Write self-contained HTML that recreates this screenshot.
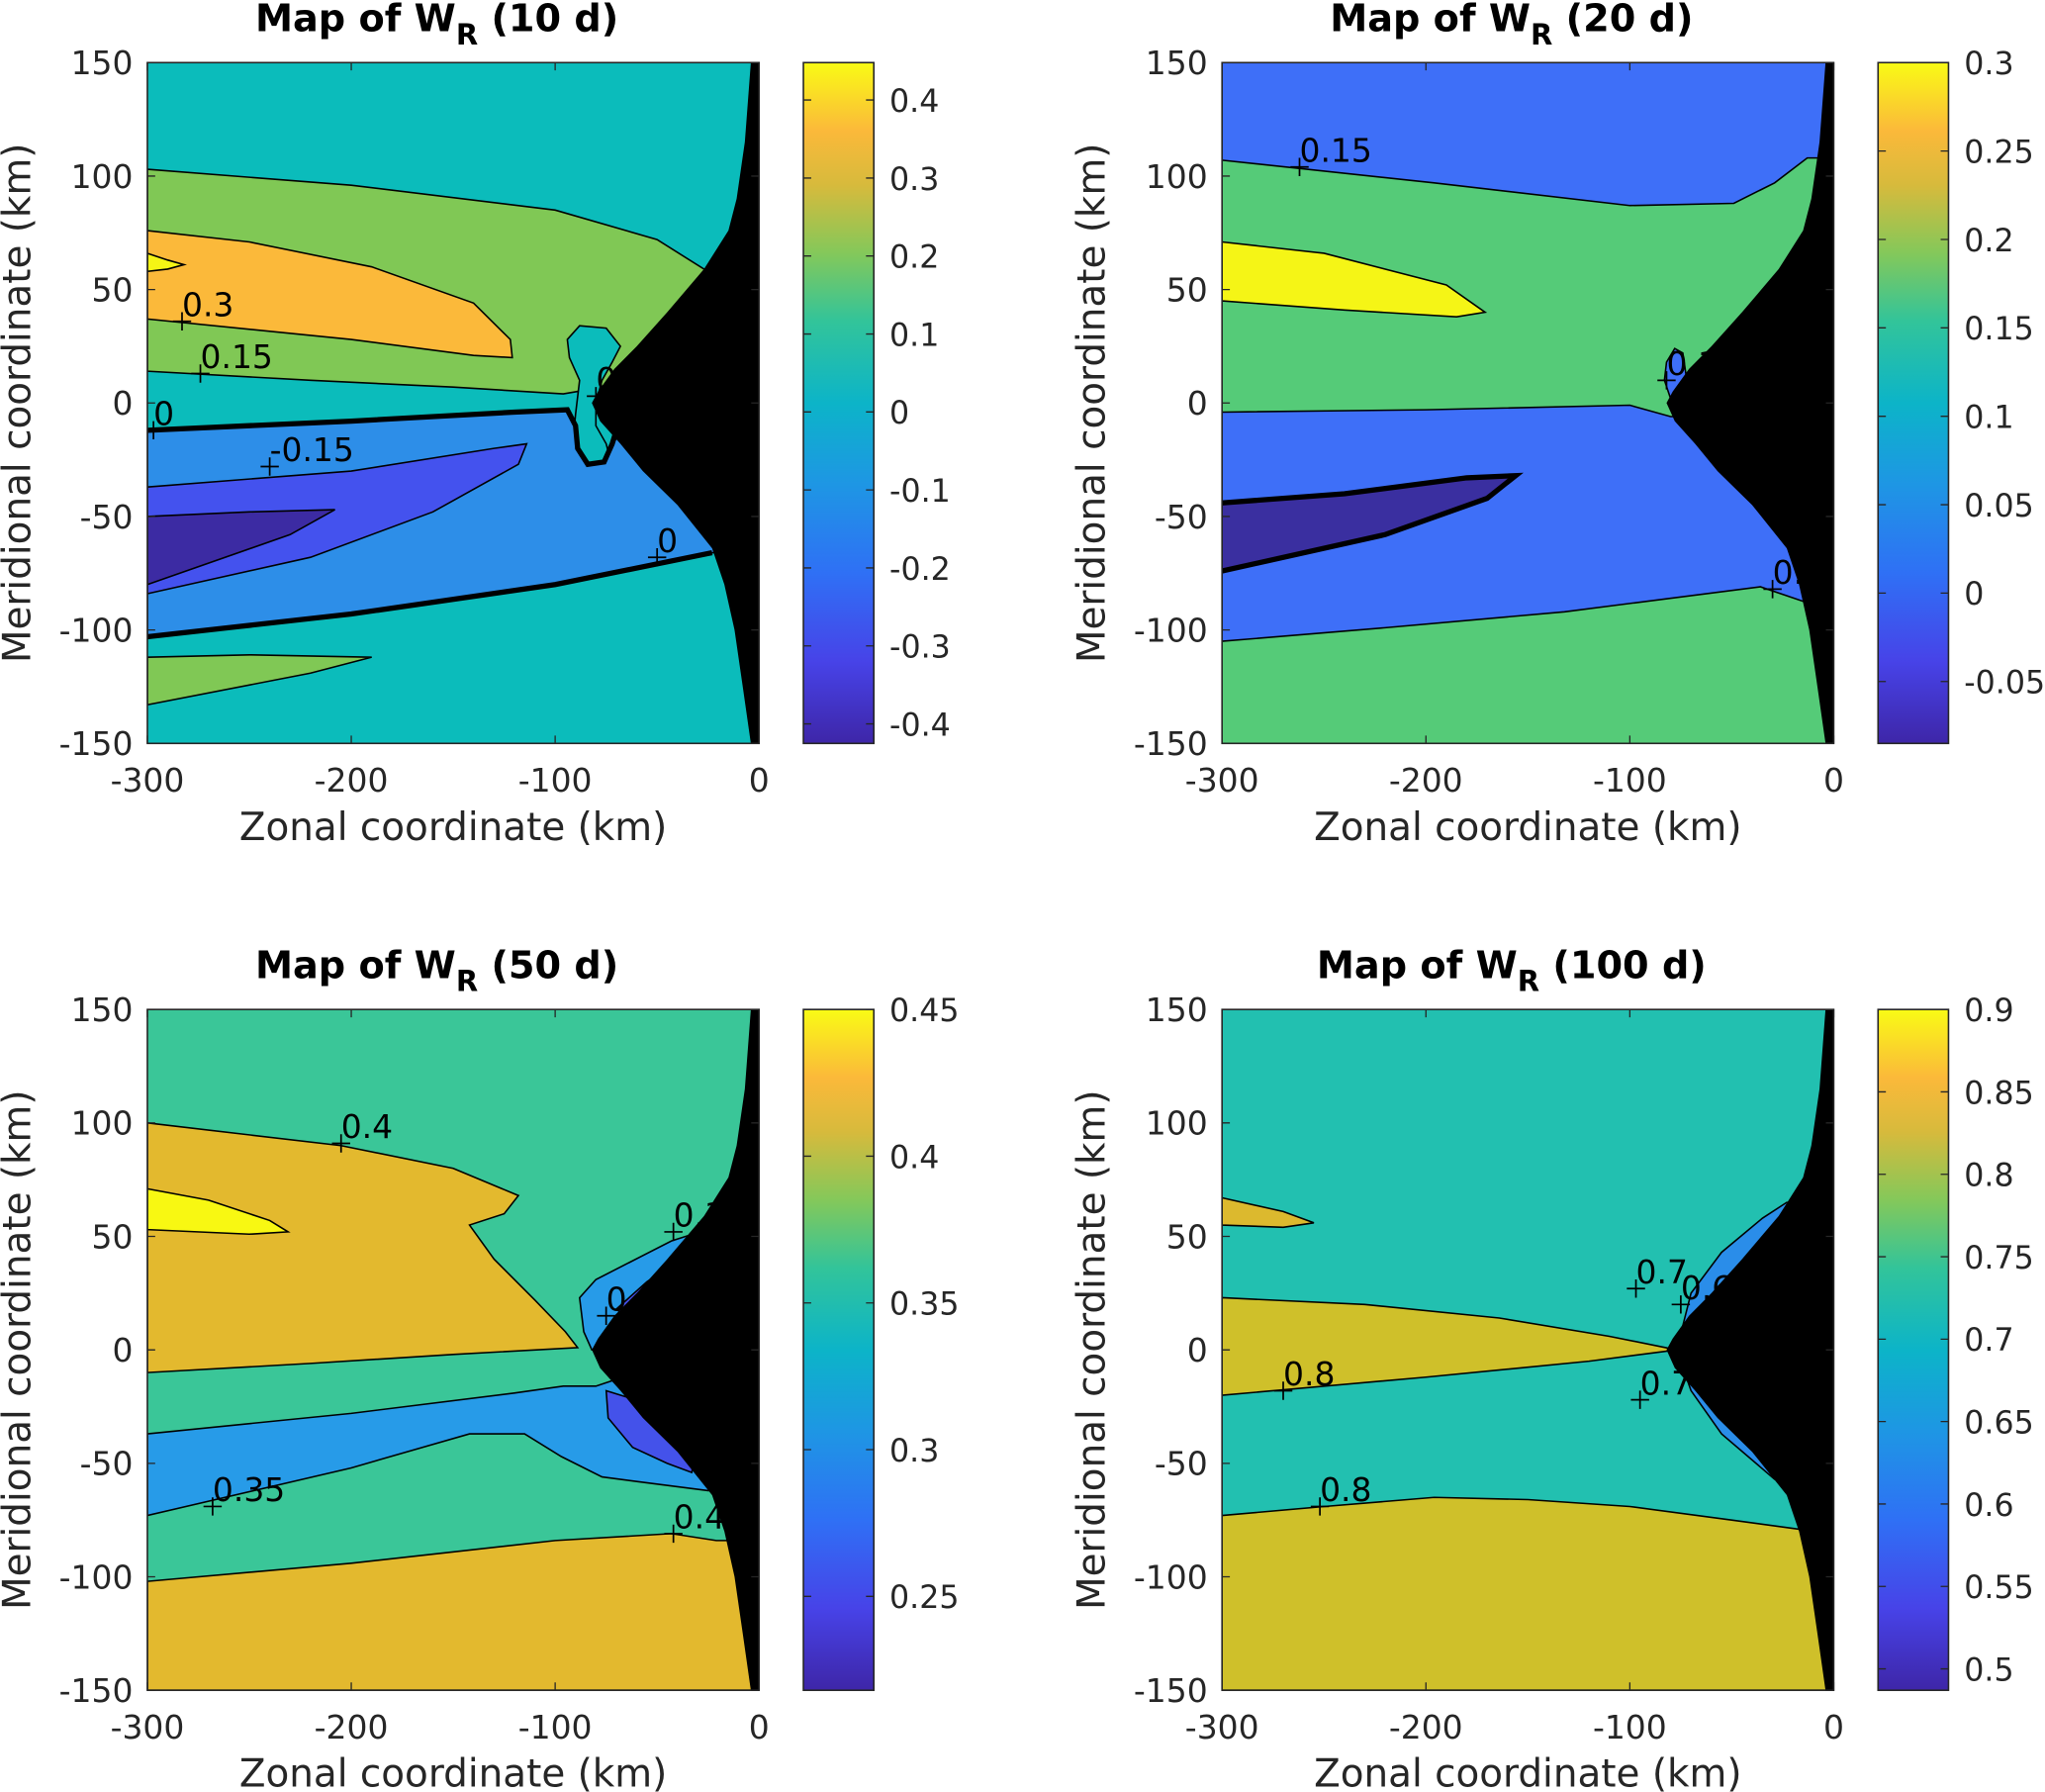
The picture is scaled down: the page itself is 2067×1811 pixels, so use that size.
<!DOCTYPE html>
<html><head><meta charset="utf-8"><style>
html,body{margin:0;padding:0;background:#fff;}
svg{display:block;font-family:"DejaVu Sans","Liberation Sans",sans-serif;}
</style></head><body>
<svg id="fig" width="2067" height="1811" viewBox="0 0 1568 1374" preserveAspectRatio="none" xmlns="http://www.w3.org/2000/svg">
<defs>
<linearGradient id="parula" x1="0" y1="1" x2="0" y2="0">
<stop offset="0" stop-color="#3e26a8"/><stop offset="0.12" stop-color="#4743e8"/>
<stop offset="0.25" stop-color="#2f70f5"/><stop offset="0.38" stop-color="#1e96e4"/>
<stop offset="0.5" stop-color="#0cb4c8"/><stop offset="0.62" stop-color="#32c49a"/>
<stop offset="0.72" stop-color="#84c85a"/><stop offset="0.82" stop-color="#d7ba3c"/>
<stop offset="0.9" stop-color="#fbb93a"/><stop offset="1" stop-color="#f9fb15"/>
</linearGradient>
</defs>
</svg>
<script>
// ---- data ----
const xTicks = [-300, -200, -100, 0];
const yTicks = [-150, -100, -50, 0, 50, 100, 150];
const titles = ["10 d", "20 d", "50 d", "100 d"];
const cbTicks1 = [-0.4, -0.3, -0.2, -0.1, 0, 0.1, 0.2, 0.3, 0.4];
const cbTicks2 = [-0.05, 0, 0.05, 0.1, 0.15, 0.2, 0.25, 0.3];
const cbTicks3 = [0.25, 0.3, 0.35, 0.4, 0.45];
const cbTicks4 = [0.5, 0.55, 0.6, 0.65, 0.7, 0.75, 0.8, 0.85, 0.9];
const cbRanges = [[-0.425, 0.448], [-0.085, 0.3], [0.218, 0.45], [0.487, 0.9]];
// coastline / mask edge: [y, x] in km
const blackEdge = [[150,-4],[115,-7],[90,-11],[76,-15],[59,-27],[40,-45],[25,-60],[15,-71],[5,-79],[0,-82],[-8,-78],[-18,-68],[-30,-57],[-45,-40],[-64,-23],[-80,-17],[-100,-12],[-125,-8],[-150,-4]];
// regions: level colour and polygon in [x km, y km]
const p1Bg = "#0bbcbb";
const p1Regions = [
 {c:"#80c855", pts:[[-300,103],[-200,96],[-100,85],[-50,72],[-27,59],[0,59],[0,8],[-70,8],[-96,4],[-150,7],[-220,10],[-300,14]]},
 {c:"#0bbcbb", pts:[[-94,28],[-88,34],[-75,33],[-68,25],[-72,18],[-77,10],[-80,0],[-80,-10],[-75,-18],[-73,-25],[-80,-28],[-88,-25],[-91,-15],[-90,-5],[-88,10],[-93,20]]},
 {c:"#fbb93a", pts:[[-300,76],[-250,71],[-190,60],[-140,44],[-122,28],[-121,20],[-140,21],[-200,28],[-300,37]]},
 {c:"#f5f515", pts:[[-300,66],[-290,63],[-282,61],[-290,59],[-300,58]]},
 {c:"#2d8ee8", pts:[[-300,-12],[-200,-8],[-120,-4],[-94,-3],[-90,-10],[-89,-20],[-84,-27],[-76,-26],[-72,-18],[-60,-5],[0,-5],[0,-66],[-23,-66],[-100,-80],[-200,-93],[-300,-103]]},
 {c:"#4452ee", pts:[[-300,-37],[-200,-30],[-130,-20],[-114,-18],[-118,-27],[-160,-48],[-220,-68],[-300,-84]]},
 {c:"#3c2ba3", pts:[[-300,-50],[-250,-48],[-208,-47],[-230,-58],[-300,-80]]},
 {c:"#80c855", pts:[[-300,-112],[-250,-111],[-190,-112],[-220,-119],[-300,-133]]}
];
const p1Thick = [
 [[-300,-12],[-200,-8],[-120,-4],[-94,-3],[-90,-10],[-89,-20],[-84,-27],[-76,-26],[-72,-18],[-70,-12]],
 [[-300,-103],[-200,-93],[-100,-80],[-23,-66]]
];
const p2Bg = "#55cb78";
const p2Regions = [
 {c:"#3e6ff8", pts:[[-300,150],[0,150],[0,108],[-13,108],[-29,97],[-49,88],[-100,87],[-196,97],[-300,107]]},
 {c:"#f5f516", pts:[[-300,71],[-250,66],[-190,52],[-171,40],[-185,38],[-240,41],[-300,45]]},
 {c:"#3e6ff8", pts:[[-300,-4],[-200,-3],[-100,-1],[-80,-6],[-70,-6],[0,-6],[0,-88],[-13,-88],[-36,-81],[-132,-92],[-220,-99],[-300,-105]]},
 {c:"#3e6ff8", pts:[[-82,18],[-78,24],[-74,22],[-72,10],[-75,-3],[-80,2],[-83,10]]},
 {c:"#3a2fa0", pts:[[-300,-44],[-240,-40],[-180,-33],[-156,-32],[-170,-42],[-220,-58],[-300,-74]]}
];
const p2Thick = [[[-300,-44],[-240,-40],[-180,-33],[-156,-32],[-170,-42],[-220,-58],[-300,-74]]];
const p3Bg = "#3ac698";
const p3Regions = [
 {c:"#e3b92e", pts:[[-300,100],[-205,90],[-150,80],[-118,68],[-125,60],[-142,55],[-130,40],[-110,22],[-95,8],[-89,1],[-150,-2],[-220,-6],[-300,-10]]},
 {c:"#f8f812", pts:[[-300,71],[-270,66],[-240,57],[-231,52],[-250,51],[-300,53]]},
 {c:"#279be8", pts:[[-300,-37],[-200,-28],[-120,-19],[-96,-16],[-80,-16],[-60,-10],[0,-10],[0,-62],[-25,-62],[-60,-58],[-77,-56],[-97,-47],[-115,-37],[-142,-37],[-200,-52],[-300,-73]]},
 {c:"#279be8", pts:[[-86,8],[-88,23],[-80,31],[-43,48],[-29,52],[0,52],[0,0],[-82,0]]},
 {c:"#4452ea", pts:[[-75,-18],[-74,-30],[-62,-43],[-45,-50],[-33,-54],[-30,-40],[-50,-25]]},
 {c:"#4452ea", pts:[[-70,18],[-55,30],[-42,38],[-45,25],[-62,12]]},
 {c:"#e3b92e", pts:[[-300,-102],[-200,-94],[-100,-84],[-43,-81],[-21,-84],[0,-84],[0,-150],[-300,-150]]}
];
const p4Bg = "#22c0b0";
const p4Regions = [
 {c:"#dcb92e", pts:[[-300,67],[-270,61],[-255,56],[-270,54],[-300,55]]},
 {c:"#cfc02a", pts:[[-300,23],[-230,20],[-164,14],[-110,6],[-77,0],[-120,-5],[-200,-12],[-300,-20]]},
 {c:"#cfc02a", pts:[[-300,-73],[-250,-69],[-196,-65],[-150,-66],[-100,-69],[-50,-75],[-17,-79],[0,-79],[0,-150],[-300,-150]]},
 {c:"#2a8de9", pts:[[-77,0],[-70,25],[-55,43],[-35,58],[-23,65],[0,65],[0,-60],[-29,-57],[-55,-37],[-70,-18]]},
 {c:"#4240d8", pts:[[-65,18],[-52,32],[-38,42],[-30,40],[-40,25]]},
 {c:"#4240d8", pts:[[-62,-20],[-48,-33],[-30,-45],[-28,-30],[-45,-22]]}
];
const p1Labels = [["0.3",-283,36],["0.15",-274,13],["0",-297,-12],["-0.15",-240,-28],["0",-50,-68],["0",-80,3]];
const p2Labels = [["0.15",-262,104],["0.1",-82,10],["0.15",-30,-82]];
const p3Labels = [["0.4",-205,91],["0.35",-268,-69],["0.4",-42,-81],["0.3",-42,52],["0",-75,15]];
const p4Labels = [["0.8",-270,-18],["0.8",-252,-69],["0.7",-97,27],["0.6",-75,20],["0.7",-95,-22]];

// ---- drawing ----
const NS = "http://www.w3.org/2000/svg";
const svg = document.getElementById("fig");
const PW = 469, PH = 522;
const panels = [
 {x0:113,y0:48,bg:p1Bg,regions:p1Regions,thick:p1Thick,labels:p1Labels,cb:cbTicks1,fmt:v=>String(v)},
 {x0:937,y0:48,bg:p2Bg,regions:p2Regions,thick:p2Thick,labels:p2Labels,cb:cbTicks2,fmt:v=>String(v)},
 {x0:113,y0:774,bg:p3Bg,regions:p3Regions,thick:[],labels:p3Labels,cb:cbTicks3,fmt:v=>String(v)},
 {x0:937,y0:774,bg:p4Bg,regions:p4Regions,thick:[],labels:p4Labels,cb:cbTicks4,fmt:v=>String(v)}
];
function mk(tag, attrs, parent){const e=document.createElementNS(NS,tag);for(const k in attrs)e.setAttribute(k,attrs[k]);(parent||svg).appendChild(e);return e;}

panels.forEach((p,i)=>{
 const sx = x => p.x0 + (x + 300) / 300 * PW;
 const sy = y => p.y0 + (150 - y) / 300 * PH;
 const g = mk("g",{});
 
 
 const clip = mk("clipPath",{id:"clip"+i},g);
 mk("rect",{x:p.x0,y:p.y0,width:PW,height:PH},clip);
 const plot = mk("g",{"clip-path":"url(#clip"+i+")"},g);
 
 
 const bg = mk("rect",{x:p.x0,y:p.y0,width:PW,height:PH,fill:p.bg},plot);
 
 
 const poly = pts => pts.map(q=>sx(q[0]).toFixed(1)+","+sy(q[1]).toFixed(1)).join(" ");
 p.regions.forEach(r=>{
  const e = mk("polygon",{points:poly(r.pts),fill:r.c,stroke:"#000","stroke-width":1.2},plot);
  
  
 });
 p.thick.forEach(t=>{
  const e = mk("polyline",{points:poly(t),fill:"none",stroke:"#000","stroke-width":4},plot);
  
  
 });
 const bpts = blackEdge.map(q=>[q[1],q[0]]).concat([[5,-150],[5,150]]);
 const blk = mk("polygon",{points:poly(bpts),fill:"#000"},plot);
 
 
 p.labels.forEach(l=>{
  const X=sx(l[1]), Y=sy(l[2]);
  const m = mk("path",{d:`M${X-7},${Y}H${X+7}M${X},${Y-7}V${Y+7}`,stroke:"#000","stroke-width":1.3},plot);
  
  
  const t = mk("text",{x:X,y:Y-4,"font-size":25,fill:"#000"},plot);
  t.textContent=l[0];
  
  
 });
 // frame + ticks
 const fr = mk("rect",{x:p.x0,y:p.y0,width:PW,height:PH,fill:"none",stroke:"#262626","stroke-width":1.2},g);
 
 
 xTicks.forEach(v=>{
  const X=sx(v);
  mk("path",{d:`M${X},${p.y0+PH}v-6M${X},${p.y0}v6`,stroke:"#262626","stroke-width":1},g);
  const t=mk("text",{x:X,y:p.y0+PH+37,"font-size":25,"text-anchor":"middle",fill:"#262626"},g);
  t.textContent=v;
  
  
 });
 yTicks.forEach(v=>{
  const Y=sy(v);
  mk("path",{d:`M${p.x0},${Y}h6M${p.x0+PW},${Y}h-6`,stroke:"#262626","stroke-width":1},g);
  const t=mk("text",{x:p.x0-11,y:Y+9,"font-size":25,"text-anchor":"end",fill:"#262626"},g);
  t.textContent=v;
  
  
 });
 const xl=mk("text",{x:p.x0+PW/2,y:p.y0+PH+74,"font-size":29.5,"text-anchor":"middle",fill:"#262626"},g);
 xl.textContent="Zonal coordinate (km)";
 
 
 const yl=mk("text",{x:0,y:0,"font-size":29.5,"text-anchor":"middle",fill:"#262626",transform:`translate(${p.x0-90},${p.y0+PH/2}) rotate(-90)`},g);
 yl.textContent="Meridional coordinate (km)";
 
 
 const tt=mk("text",{x:p.x0+222,y:p.y0-24,"font-size":29,"font-weight":"bold","text-anchor":"middle",fill:"#000"},g);
 tt.innerHTML='Map of W<tspan dy="10" font-size="22">R</tspan><tspan dy="-10"> ('+titles[i]+')</tspan>';
 
 
 // colorbar
 const cx = p.x0+503, cw=54;
 const [lo,hi] = cbRanges[i];
 const cy = v => p.y0 + (hi - v)/(hi-lo)*PH;
 const cb=mk("rect",{x:cx,y:p.y0,width:cw,height:PH,fill:"url(#parula)",stroke:"#262626","stroke-width":1.2},g);
 
 
 p.cb.forEach(v=>{
  const Y=cy(v);
  mk("path",{d:`M${cx+cw},${Y}h-6M${cx},${Y}h6`,stroke:"#262626","stroke-width":1},g);
  const t=mk("text",{x:cx+cw+12,y:Y+9,"font-size":24,fill:"#262626"},g);
  t.textContent=p.fmt(v);
  
  
 });
});
</script>
</body></html>
